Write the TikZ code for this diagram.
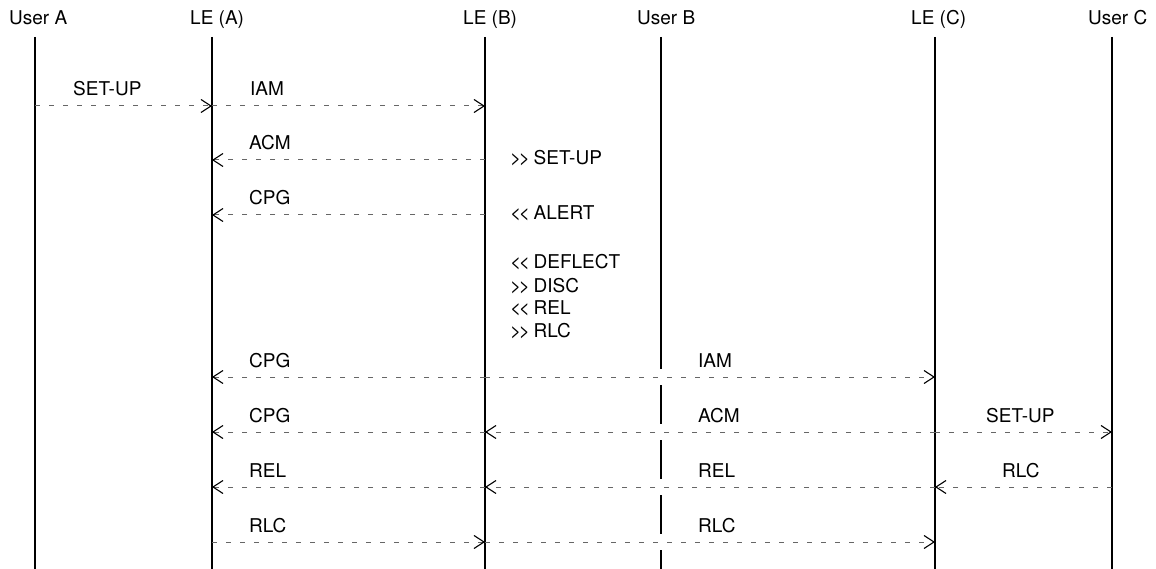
\documentclass[tikz,border=0pt]{standalone}
\usepackage{fontspec}
\setmainfont{TeX Gyre Heros}[Ligatures=ResetAll]
\usetikzlibrary{arrows.meta,calc}
\newcommand\mygtgt{>\kern-2.5pt>\kern-1.5pt}
\newcommand\myltlt{<\kern-2.5pt<\kern-1.5pt}
\begin{document}
\begin{tikzpicture}[x=1pt,y=-1pt,
  txt/.style={anchor=base west, inner sep=0pt, font=\fontsize{19}{22}\selectfont},
  lifeline/.style={line width=1.8pt, black},
  thinline/.style={line width=1.2pt, black},
  msg/.style={draw=black!60, line width=1pt, dash pattern=on 5pt off 9pt,
    -{Straight Barb[length=10pt,width=13pt,line width=1.1pt,color=black]}},
  knock/.style={draw=white, line width=4pt},
]
\useasboundingbox[fill=white] (0,0) rectangle (1156,569);

% headers
\node[txt] (hUA) at (9,25) {User A};
\node[txt] (hLA) at (190,25) {LE (A)};
\node[txt] (hLB) at (463,25) {LE (B)};
\node[txt] (hUB) at (637,25) {User B};
\node[txt] (hLC) at (911,25) {LE (C)};
\node[txt] (hUC) at (1088,25) {User C};

% lifeline tops and bottoms
\coordinate (UA) at (35,37);   \coordinate (UAb) at (35,569);
\coordinate (LA) at (212,37);  \coordinate (LAb) at (212,569);
\coordinate (LB) at (485,37);  \coordinate (LBb) at (485,569);
\coordinate (UB) at (661,37);  \coordinate (UBb) at (661,569);
\coordinate (LC) at (935,37);  \coordinate (LCb) at (935,569);
\coordinate (UC) at (1112,37); \coordinate (UCb) at (1112,569);

% message rows
\coordinate (r1) at (0,106);
\coordinate (r2) at (0,160);
\coordinate (r3) at (0,215);
\coordinate (r4) at (0,377);
\coordinate (r5) at (0,432);
\coordinate (r6) at (0,487);
\coordinate (r7) at (0,542);

% lifelines
\draw[thinline] (UA) -- (UAb);
\draw[lifeline] (LA) -- (LAb);
\draw[lifeline] (LB) -- (LBb);
\draw[lifeline] (UB) -- (UBb);
\draw[lifeline] (LC) -- (LCb);
\draw[lifeline] (UC) -- (UCb);

% gaps in User B lifeline where messages pass
\foreach \r in {r4,r5,r6,r7}{
  \draw[knock] ($(UB|-\r)+(0,-8)$) -- ($(UB|-\r)+(0,8)$);
}

% row 1
\draw[msg] (UA|-r1) -- (LA|-r1);
\node[txt] (m1) at (73,96) {SET-UP};
\draw[msg] (LA|-r1) -- (LB|-r1);
\node[txt] (m2) at (250,96) {IAM};

% row 2
\draw[msg] (LB|-r2) -- (LA|-r2);
\node[txt] (m3) at (249,150) {ACM};

% row 3
\draw[msg] (LB|-r3) -- (LA|-r3);
\node[txt] (m4) at (249,205) {CPG};

% notes at LE (B)
\node[txt] (n1) at (510,165) {\mygtgt{} SET-UP};
\node[txt] (n2) at (510,220) {\myltlt{} ALERT};
\node[txt] (n3) at (510,269) {\myltlt{} DEFLECT};
\node[txt] (n4) at (510,292) {\mygtgt{} DISC};
\node[txt] (n5) at (510,314) {\myltlt{} REL};
\node[txt] (n6) at (510,337) {\mygtgt{} RLC};

% row 4
\draw[msg] (LB|-r4) -- (LA|-r4);
\node[txt] (m5) at (249,367) {CPG};
\draw[msg] (LB|-r4) -- (LC|-r4);
\node[txt] (m6) at (698,367) {IAM};

% row 5
\draw[msg] (LB|-r5) -- (LA|-r5);
\node[txt] (m7) at (249,422) {CPG};
\draw[msg] (LC|-r5) -- (LB|-r5);
\node[txt] (m8) at (698,422) {ACM};
\draw[msg] (LC|-r5) -- (UC|-r5);
\node[txt] (m9) at (986,422) {SET-UP};

% row 6
\draw[msg] (LB|-r6) -- (LA|-r6);
\node[txt] (m10) at (249,477) {REL};
\draw[msg] (LC|-r6) -- (LB|-r6);
\node[txt] (m11) at (698,477) {REL};
\draw[msg] (UC|-r6) -- (LC|-r6);
\node[txt] (m12) at (1002,477) {RLC};

% row 7
\draw[msg] (LA|-r7) -- (LB|-r7);
\node[txt] (m13) at (249,532) {RLC};
\draw[msg] (LB|-r7) -- (LC|-r7);
\node[txt] (m14) at (698,532) {RLC};
\end{tikzpicture}
\end{document}
